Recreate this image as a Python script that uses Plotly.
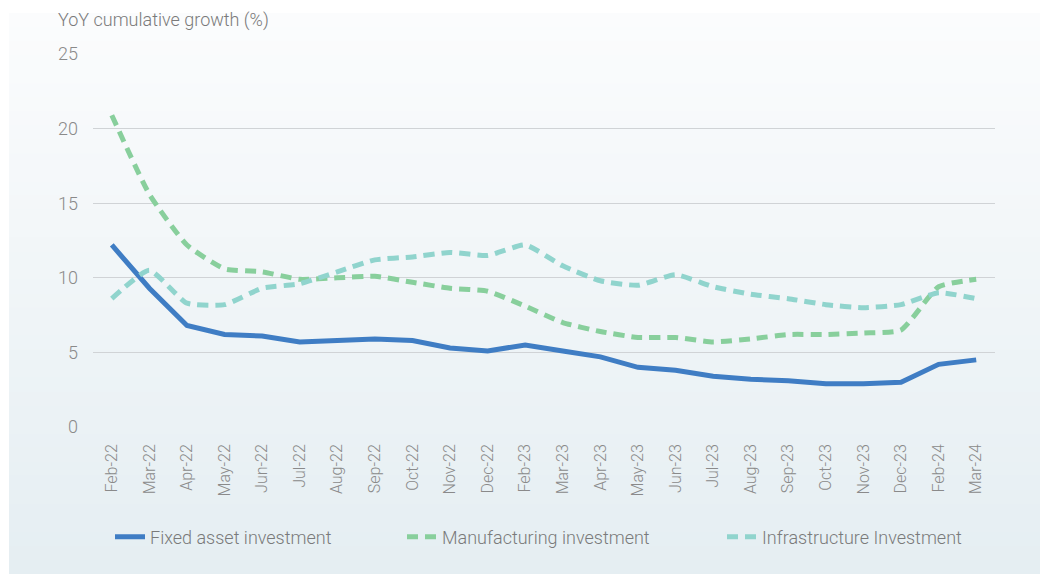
import plotly.graph_objects as go

months = ["Feb-22", "Mar-22", "Apr-22", "May-22", "Jun-22", "Jul-22", "Aug-22", "Sep-22",
          "Oct-22", "Nov-22", "Dec-22", "Feb-23", "Mar-23", "Apr-23", "May-23", "Jun-23",
          "Jul-23", "Aug-23", "Sep-23", "Oct-23", "Nov-23", "Dec-23", "Feb-24", "Mar-24"]

fixed_asset = [12.2, 9.3, 6.8, 6.2, 6.1, 5.7, 5.8, 5.9, 5.8, 5.3, 5.1, 5.5,
               5.1, 4.7, 4.0, 3.8, 3.4, 3.2, 3.1, 2.9, 2.9, 3.0, 4.2, 4.5]
manufacturing = [20.9, 15.6, 12.2, 10.6, 10.4, 9.9, 10.0, 10.1, 9.7, 9.3, 9.1, 8.1,
                 7.0, 6.4, 6.0, 6.0, 5.7, 5.9, 6.2, 6.2, 6.3, 6.5, 9.4, 9.9]
infrastructure = [8.6, 10.5, 8.3, 8.2, 9.3, 9.6, 10.4, 11.2, 11.4, 11.7, 11.5, 12.2,
                  10.8, 9.8, 9.5, 10.2, 9.4, 8.9, 8.6, 8.2, 8.0, 8.2, 9.0, 8.6]

W, H = 1040, 574
ML, MR, MT, MB = 93, 45, 54, 147
PW, PH = W - ML - MR, H - MT - MB

def px_x(px):
    return (px - ML) / PW

def px_y(py):
    return (H - MB - py) / PH

FONT = "Roboto"
GRAY = "#8a8a8a"
TXT = "#7a7a7a"

fig = go.Figure()
fig.add_trace(go.Scatter(x=months, y=fixed_asset, name="Fixed asset investment",
                         mode="lines", line=dict(color="#3f7dc4", width=5), legend="legend"))
fig.add_trace(go.Scatter(x=months, y=manufacturing, name="Manufacturing investment",
                         mode="lines", line=dict(color="#88cf9c", width=5, dash="11px,7px",
                                                 shape="spline", smoothing=0.5), legend="legend2"))
fig.add_trace(go.Scatter(x=months, y=infrastructure, name="Infrastructure Investment",
                         mode="lines", line=dict(color="#90d4cd", width=5, dash="11px,7px",
                                                 shape="spline", smoothing=0.5), legend="legend3"))

# gradient background panel
shapes = []
top, bottom, left = 13, H, 9
n = 40
c0 = (251, 252, 253)
c1 = (229, 238, 242)
for i in range(n):
    t = i / (n - 1)
    col = tuple(round(c0[k] + (c1[k] - c0[k]) * t) for k in range(3))
    y0p = top + (bottom - top) * i / n
    y1p = top + (bottom - top) * (i + 1) / n + 1
    shapes.append(dict(type="rect", xref="paper", yref="paper", layer="below",
                       x0=px_x(left), x1=px_x(W + 5), y0=px_y(min(y1p, H + 5)), y1=px_y(y0p),
                       line=dict(width=0), fillcolor="rgb(%d,%d,%d)" % col))

def leg(xpx):
    return dict(orientation="h", x=px_x(xpx), xanchor="left", y=px_y(537), yanchor="middle",
                font=dict(size=18, color=TXT, family=FONT, weight=300),
                bgcolor="rgba(0,0,0,0)")

fig.update_layout(
    width=W, height=H,
    margin=dict(l=ML, r=MR, t=MT, b=MB),
    paper_bgcolor="white", plot_bgcolor="rgba(0,0,0,0)",
    shapes=shapes,
    font=dict(family=FONT, color=GRAY),
    showlegend=True,
    legend=leg(110), legend2=leg(402), legend3=leg(722),
    annotations=[dict(text="YoY cumulative growth (%)", xref="paper", yref="paper",
                      x=px_x(56), y=px_y(20), xanchor="left", yanchor="middle",
                      showarrow=False, font=dict(size=18, color=TXT, family=FONT, weight=300))],
    xaxis=dict(type="category", range=[-0.5, len(months) - 0.5], tickangle=-90,
               tickfont=dict(size=16, color=GRAY, family=FONT, weight=300),
               showgrid=False, zeroline=False, showline=False, ticks="", ticklabelstandoff=13),
    yaxis=dict(range=[0, 25], tickvals=[0, 5, 10, 15, 20, 25], showgrid=True,
               gridcolor="#d0d3d6", gridwidth=1.3, zeroline=False, showline=False,
               tickfont=dict(size=18, color=GRAY, family=FONT, weight=300),
               ticks="", ticklabelstandoff=14),
)

fig.write_html("out.html")
